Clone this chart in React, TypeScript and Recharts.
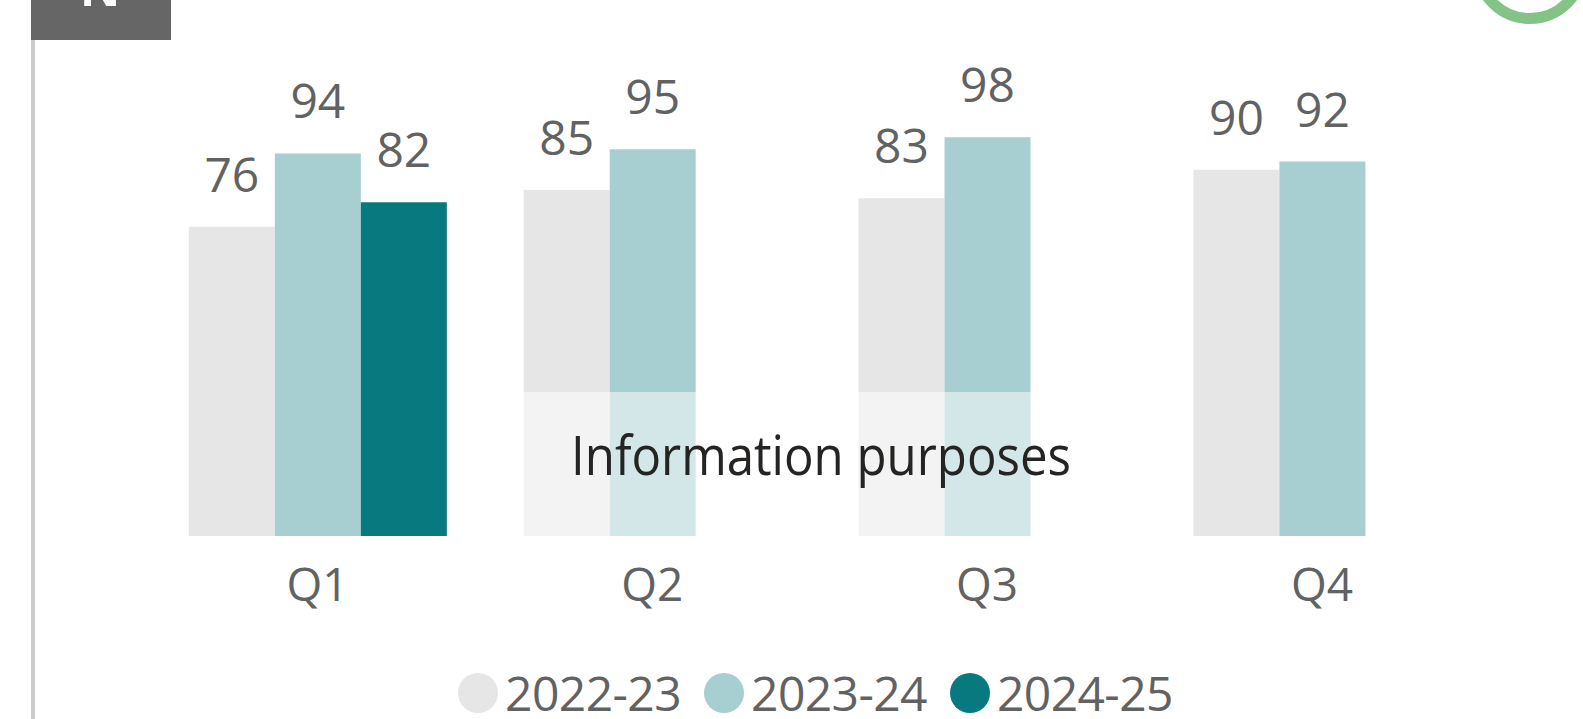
import React from "react";
import { BarChart, Bar, XAxis, YAxis, LabelList, Legend } from "recharts";

const quarters = ["Q1", "Q2", "Q3", "Q4"];
const fy2223 = [76, 85, 83, 90];
const fy2324 = [94, 95, 98, 92];
const fy2425: (number | null)[] = [82, null, null, null];
const seriesNames = ["2022-23", "2023-24", "2024-25"];
const seriesColors = ["#E6E6E6", "#A7CFD1", "#087A7F"];
const seriesKeys = ["a", "b", "c"];

const data = quarters.map((q, i) => ({ q, a: fy2223[i], b: fy2324[i], c: fy2425[i] }));

const FONT = "'Open Sans', 'Noto Sans', sans-serif";
const TEXT = "#626262";

const LegendContent = () => (
  <div style={{ display: "flex", justifyContent: "center", alignItems: "center", height: 48 }}>
    {seriesNames.map((n, i) => (
      <div key={n} style={{ display: "flex", alignItems: "center", marginRight: i < seriesNames.length - 1 ? 23 : 0 }}>
        <div style={{ width: 40, height: 40, borderRadius: "50%", background: seriesColors[i], marginRight: 7 }} />
        <span style={{ display: "block", height: 48, fontFamily: FONT, fontSize: 48, lineHeight: "48px", color: TEXT, letterSpacing: -0.6, whiteSpace: "nowrap" }}>{n}</span>
      </div>
    ))}
  </div>
);

export default function App() {
  return (
    <div style={{ position: "absolute", left: 0, top: 0, width: 1583, height: 719, background: "#fff", overflow: "hidden" }}>
      <BarChart
        width={1583}
        height={719}
        data={data}
        margin={{ top: 129, right: 93.6, bottom: 123, left: 150 }}
        barCategoryGap="11.6%"
        barGap={0}
      >
        <XAxis
          dataKey="q"
          axisLine={false}
          tickLine={false}
          tickSize={0}
          tickMargin={32}
          height={60}
          interval={0}
          tick={{ fontSize: 46, fill: TEXT, fontFamily: FONT }}
        />
        <YAxis hide domain={[0, 100]} />
        <Legend
          verticalAlign="middle"
          align="center"
          layout="horizontal"
          content={<LegendContent />}
          wrapperStyle={{ top: 669, left: 146, width: 1339, height: 48 }}
        />
        {seriesKeys.map((k, i) => (
          <Bar key={k} dataKey={k} name={seriesNames[i]} fill={seriesColors[i]} isAnimationActive={false}>
            <LabelList dataKey={k} position="top" offset={35} style={{ fontSize: 48, fill: TEXT, fontFamily: FONT }} />
          </Bar>
        ))}
      </BarChart>

      {/* watermark overlay */}
      <svg style={{ position: "absolute", left: 0, top: 0, zIndex: 2, pointerEvents: "none" }} width={1583} height={719}>
        <rect x={520} y={392} width={600} height={150} fill="#ffffff" fillOpacity={0.5} />
        <text x={821} y={475} textAnchor="middle" fontSize={54} fill="#252423" fontFamily={FONT} textLength={500} lengthAdjust="spacingAndGlyphs">
          Information purposes
        </text>
        {/* page decorations */}
        <rect x={31} y={40} width={4} height={679} fill="#CCCCCC" />
        <rect x={31} y={0} width={140} height={40} fill="#666666" />
        <text x={100} y={6} textAnchor="middle" fontSize={50} fontWeight={700} fill="#ffffff" fontFamily={FONT}>N</text>
        <circle cx={1530} cy={-34} r={52.5} fill="none" stroke="#84C386" strokeWidth={11} />
      </svg>
    </div>
  );
}
